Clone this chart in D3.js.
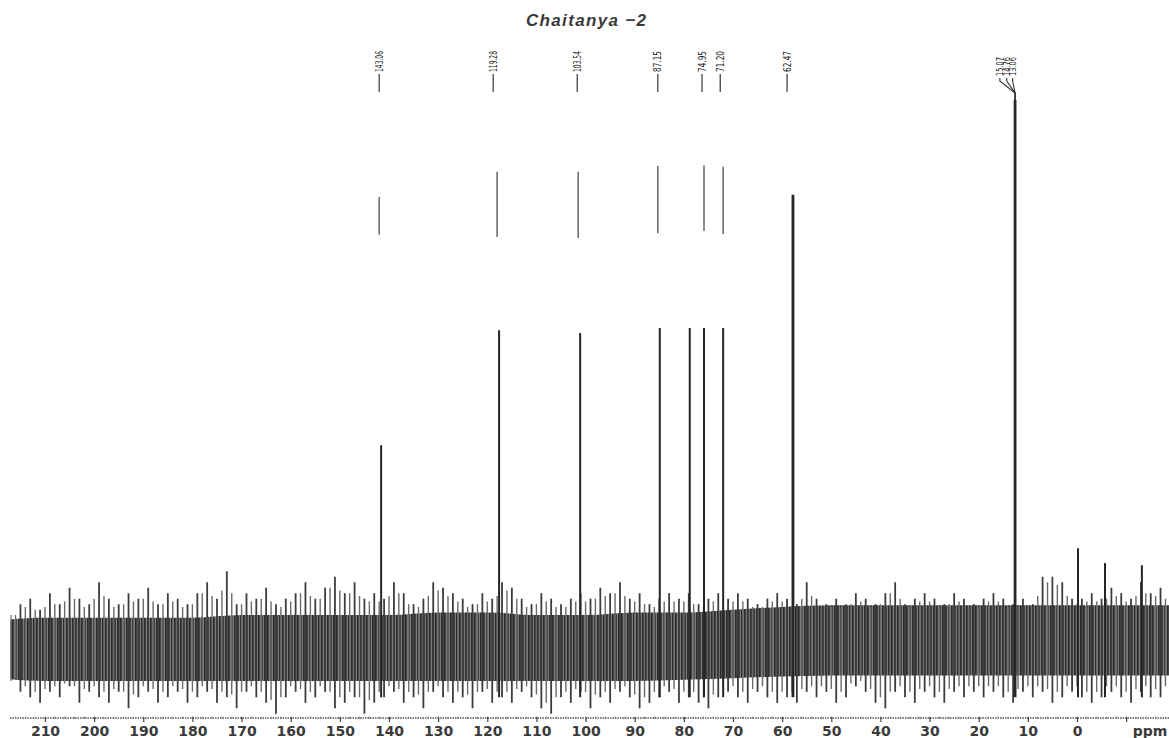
<!DOCTYPE html>
<html>
<head>
<meta charset="utf-8">
<script src="https://cdn.jsdelivr.net/npm/d3@7"></script>
<style>
  html, body { margin: 0; padding: 0; background: #fff; }
  svg { display: block; }
</style>
</head>
<body>
<svg id="chart" width="1169" height="738"></svg>
<script>
// ---------- DATA ----------
const titleText = "Chaitanya \u22122";
const axisTicks = [210,200,190,180,170,160,150,140,130,120,110,100,90,80,70,60,50,40,30,20,10,0];
const axisUnit = "ppm";

// main peaks (position on the drawn ppm axis, relative intensity)
const peakPpm    = [141.6, 117.6, 101.1, 84.9, 78.8, 75.9, 72.0, 57.8, 12.6, -0.2, -5.7, -13.2];
const peakHeight = [37.0,  58.0,  57.5,  58.4, 58.4, 58.4, 58.4, 82.7, 100,  18.2, 15.5, 15.1];

// faded upper fragments of peaks (scan artefact)
const fragPpm  = [142.0, 118.0, 101.5, 85.3, 75.9, 72.0];
const fragLow  = [75.4, 75.0, 74.8, 75.7, 76.1, 75.5];
const fragHigh = [82.3, 86.9, 86.9, 88.0, 88.1, 87.8];

// peak labels
const labelText = ["143.06", "119.28", "103.54", "87.15", "74.95", "71.20", "62.47"];
const labelPpm  = [142.0, 118.8, 101.7, 85.3, 76.3, 72.6, 59.0];
const clusterText = ["15.07", "14.76", "13.06"];
const clusterPpm  = [15.7, 14.3, 13.1];
const clusterPeakPpm = 12.6;

// noise band: spike tips every 2 ppm from 217 to -19
const noiseStart = 217, noiseStep = 2;
const noiseHi = [
  6, 8, 9, 7, 10, 8, 11, 9, 8, 12,
  9, 8, 10, 9, 11, 8, 10, 9, 8, 10,
  12, 9, 14, 8, 10, 9, 11, 8, 9, 10,
  12, 9, 11, 13, 10, 12, 9, 10, 9, 12,
  10, 8, 9, 12, 11, 10, 9, 8, 10, 9,
  12, 11, 9, 8, 10, 9, 8, 9, 10, 9,
  11, 10, 12, 9, 10, 8, 9, 10, 9, 10,
  8, 9, 10, 9, 10, 9, 8, 9, 10, 9,
  8, 12, 9, 8, 9, 8, 10, 9, 8, 10,
  12, 8, 9, 10, 9, 8, 10, 9, 8, 9,
  10, 9, 8, 9, 8, 13, 13, 12, 9, 9,
  10, 9, 11, 10, 9, 12, 10, 11, 9
];
const noiseLo = [
  -6, -8, -9, -10, -8, -9, -7, -10, -8, -9,
  -10, -8, -11, -9, -8, -10, -9, -8, -10, -9,
  -8, -10, -9, -11, -8, -9, -10, -12, -9, -8,
  -10, -9, -8, -11, -10, -9, -12, -10, -9, -8,
  -10, -9, -11, -8, -9, -10, -9, -11, -8, -10,
  -9, -10, -8, -9, -11, -12, -9, -10, -8, -11,
  -9, -10, -8, -9, -11, -10, -9, -8, -10, -9,
  -10, -11, -9, -8, -9, -10, -8, -9, -10, -9,
  -10, -8, -9, -8, -10, -9, -7, -8, -10, -11,
  -8, -9, -10, -8, -9, -10, -8, -9, -8, -9,
  -8, -9, -10, -8, -9, -8, -10, -9, -8, -9,
  -10, -9, -8, -9, -10, -8, -9, -9, -8
];
// dense core of the noise band, every 10 ppm from 220 to -20
const coreStart = 220, coreStep = 10;
const coreHi = [5, 5.5, 5.5, 5.5, 5.5, 6, 6, 6, 6, 6.5, 6.5, 6, 6, 6.5, 6.5, 7, 7.5, 7.8, 7.8, 7.8, 7.8, 7.8, 7.8, 7.8, 7.8];
const coreLo = [-5.5, -6, -6, -6, -6, -6, -6, -6, -6, -6, -6, -6, -6, -6, -5.8, -5.5, -5.2, -5, -5, -5, -5, -5, -5, -5, -5];

// ---------- DRAW ----------
const svg = d3.select("#chart");
const x = d3.scaleLinear().domain([210, 0]).range([45, 1077]);
const y = d3.scaleLinear().domain([0, 100]).range([648, 100]);

const defs = svg.append("defs");
const pat = defs.append("pattern").attr("id", "hatch")
  .attr("width", 3).attr("height", 10).attr("patternUnits", "userSpaceOnUse");
pat.append("rect").attr("width", 3).attr("height", 10).attr("fill", "#7a7a7a");
pat.append("rect").attr("width", 1.7).attr("height", 10).attr("fill", "#2c2c2c");

const clipLeft = x(noiseStart), clipRight = 1169;
defs.append("clipPath").attr("id", "band").append("rect")
  .attr("x", clipLeft).attr("y", 0).attr("width", clipRight - clipLeft).attr("height", 738);

// title
svg.append("text").attr("x", 586).attr("y", 26)
  .attr("text-anchor", "middle")
  .attr("font-family", "Liberation Sans, Arial, sans-serif")
  .attr("font-weight", "bold").attr("font-style", "italic")
  .attr("font-size", 17).attr("fill", "#3a3a3a")
  .attr("textLength", 120).attr("lengthAdjust", "spacing")
  .text(titleText);

// noise core
const coreData = coreHi.map((h, i) => ({ p: coreStart - i * coreStep, hi: h, lo: coreLo[i] }));
const g = svg.append("g").attr("clip-path", "url(#band)");
g.append("path").datum(coreData)
  .attr("d", d3.area().x(d => x(d.p)).y0(d => y(d.lo)).y1(d => y(d.hi)).curve(d3.curveMonotoneX))
  .attr("fill", "url(#hatch)");

// noise spikes
const spikes = noiseHi.map((h, i) => ({ p: noiseStart - i * noiseStep, hi: h, lo: noiseLo[i] }));
g.selectAll("line.spk").data(spikes).join("line")
  .attr("x1", d => x(d.p)).attr("x2", d => x(d.p))
  .attr("y1", d => y(d.lo)).attr("y2", d => y(d.hi))
  .attr("stroke", "#3c3c3c").attr("stroke-width", 1.8);
g.selectAll("line.spk2").data(spikes.slice(1)).join("line")
  .attr("x1", (d, i) => x((d.p + spikes[i].p) / 2)).attr("x2", (d, i) => x((d.p + spikes[i].p) / 2))
  .attr("y1", (d, i) => y((d.lo + spikes[i].lo) / 2 + 1.5)).attr("y2", (d, i) => y((d.hi + spikes[i].hi) / 2 - 1))
  .attr("stroke", "#6a6a6a").attr("stroke-width", 1.4);

// peaks
svg.selectAll("line.peak").data(peakPpm).join("line")
  .attr("x1", d => x(d)).attr("x2", d => x(d))
  .attr("y1", y(-9)).attr("y2", (d, i) => y(peakHeight[i]))
  .attr("stroke", "#262626")
  .attr("stroke-width", (d, i) => peakHeight[i] > 80 ? 2.8 : 2);

// upper fragments
svg.selectAll("line.frag").data(fragPpm).join("line")
  .attr("x1", d => x(d)).attr("x2", d => x(d))
  .attr("y1", (d, i) => y(fragLow[i])).attr("y2", (d, i) => y(fragHigh[i]))
  .attr("stroke", "#6e6e6e").attr("stroke-width", 1.6);

// peak labels
const labelFont = "Liberation Sans Narrow, DejaVu Sans Condensed, Liberation Sans, sans-serif";
const lab = svg.append("g");
labelText.forEach((t, i) => {
  const lx = x(labelPpm[i]);
  lab.append("line").attr("x1", lx).attr("x2", lx).attr("y1", 74).attr("y2", 92)
    .attr("stroke", "#333").attr("stroke-width", 1.2);
  lab.append("text")
    .attr("transform", `translate(${lx + 3.5},72) rotate(-90)`)
    .attr("font-family", labelFont).attr("font-size", 10).attr("fill", "#222")
    .attr("textLength", 21).attr("lengthAdjust", "spacingAndGlyphs")
    .text(t);
});
clusterText.forEach((t, i) => {
  const lx = x(clusterPpm[i]);
  const px = x(clusterPeakPpm);
  lab.append("path")
    .attr("d", `M${lx},78 L${lx},81 L${px},93 L${px},100`)
    .attr("fill", "none").attr("stroke", "#333").attr("stroke-width", 1.1);
  lab.append("text")
    .attr("transform", `translate(${lx + 3},76) rotate(-90)`)
    .attr("font-family", labelFont).attr("font-size", 8).attr("fill", "#222")
    .attr("textLength", 19).attr("lengthAdjust", "spacingAndGlyphs")
    .text(t);
});

// axis
const axisY = 718;
svg.append("line").attr("x1", 10).attr("x2", 1169).attr("y1", axisY).attr("y2", axisY)
  .attr("stroke", "#555").attr("stroke-width", 1.5).attr("stroke-dasharray", "1.5,1");
const minor = d3.range(216, -20, -2);
svg.selectAll("line.minor").data(minor).join("line")
  .attr("x1", d => x(d)).attr("x2", d => x(d))
  .attr("y1", axisY - 1.5).attr("y2", axisY + 1)
  .attr("stroke", "#777").attr("stroke-width", 0.8);
const axis = d3.axisBottom(x).tickValues(axisTicks.concat([-10])).tickSize(5).tickPadding(4)
  .tickFormat(d => d < 0 ? "" : d);
const ag = svg.append("g").attr("transform", `translate(0,${axisY - 1})`).call(axis);
ag.select(".domain").remove();
ag.selectAll(".tick line").attr("stroke", "#444").attr("stroke-width", 1.2);
ag.selectAll(".tick text")
  .attr("font-family", "DejaVu Sans, Verdana, sans-serif")
  .attr("font-weight", "bold").attr("font-size", 14).attr("fill", "#3a3a3a");
svg.append("text").attr("x", 1150).attr("y", 736)
  .attr("text-anchor", "middle")
  .attr("font-family", "DejaVu Sans, Verdana, sans-serif")
  .attr("font-weight", "bold").attr("font-size", 14).attr("fill", "#3a3a3a")
  .text(axisUnit);
</script>
</body>
</html>
